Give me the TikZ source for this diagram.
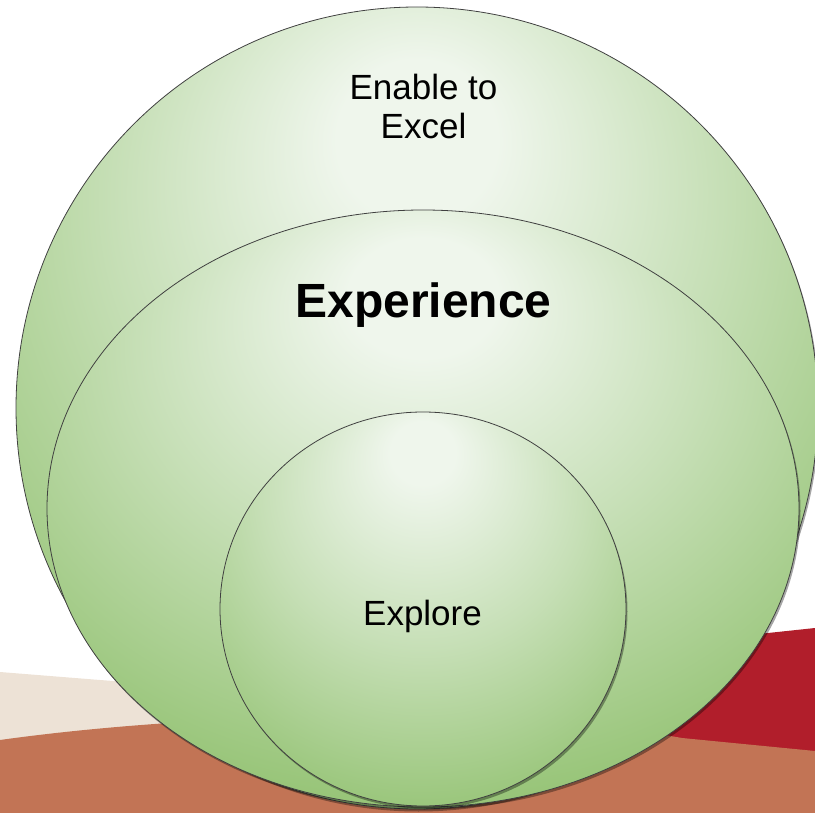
\documentclass[tikz,border=0pt]{standalone}
\usepackage{fontspec}
\setmainfont{Liberation Sans}
\usetikzlibrary{shadows}
\definecolor{gl}{HTML}{EFF6EC}
\definecolor{gm}{HTML}{C6DFB6}
\definecolor{gd}{HTML}{93C272}
\definecolor{beige}{HTML}{EDE2D6}
\definecolor{terra}{HTML}{C27455}
\definecolor{redband}{HTML}{B11E2B}
\definecolor{rim}{HTML}{404040}
\pgfdeclareradialshading{outerglow}{\pgfpoint{0bp}{18bp}}{color(0bp)=(gl); color(5bp)=(gl); color(19bp)=(gm); color(36bp)=(gd); color(70bp)=(gd)}
\pgfdeclareradialshading{midglow}{\pgfpoint{0bp}{19bp}}{color(0bp)=(gl); color(5bp)=(gl); color(19bp)=(gm); color(36bp)=(gd); color(70bp)=(gd)}
\pgfdeclareradialshading{innerglow}{\pgfpoint{0bp}{21bp}}{color(0bp)=(gl); color(4bp)=(gl); color(20bp)=(gm); color(38bp)=(gd); color(70bp)=(gd)}
\tikzset{
  ring/.style={draw=rim, line width=0.8pt,
    drop shadow={shadow xshift=1.5pt, shadow yshift=-2.5pt, opacity=0.35, fill=black}},
  labeltext/.style={font=\fontsize{35}{39}\selectfont, align=center, inner sep=0pt},
  bigtext/.style={font=\fontsize{48}{54}\selectfont\bfseries, inner sep=0pt},
}
\begin{document}
\begin{tikzpicture}[x=1pt,y=-1pt]
\useasboundingbox (0,0) rectangle (815,813);
\clip (0,0) rectangle (815,813);
% background bands
\fill[beige] (0,672) -- (100,680) -- (430,705) -- (430,780) -- (0,780) -- cycle;
\fill[redband] (480,662) -- (768,633) -- (815,628) -- (815,780) -- (480,780) -- cycle;
\fill[terra] (0,740) .. controls (200,712) and (500,705) .. (682,738) -- (815,751) -- (815,813) -- (0,813) -- cycle;
% circles
\path[ring, shading=outerglow] (417,408) circle [radius=401];
\path[ring, shading=midglow] (423,508.5) ellipse [x radius=376, y radius=298.5];
\path[ring, shading=innerglow] (423,609) ellipse [x radius=203, y radius=197];
% texts
\node[labeltext, anchor=base] (excel) at (423.5,139) {Enable to\\Excel};
\node[bigtext, anchor=base] (experience) at (423.5,318) {Experience};
\node[labeltext, anchor=base] (explore) at (422.5,625) {Explore};
\end{tikzpicture}
\end{document}
